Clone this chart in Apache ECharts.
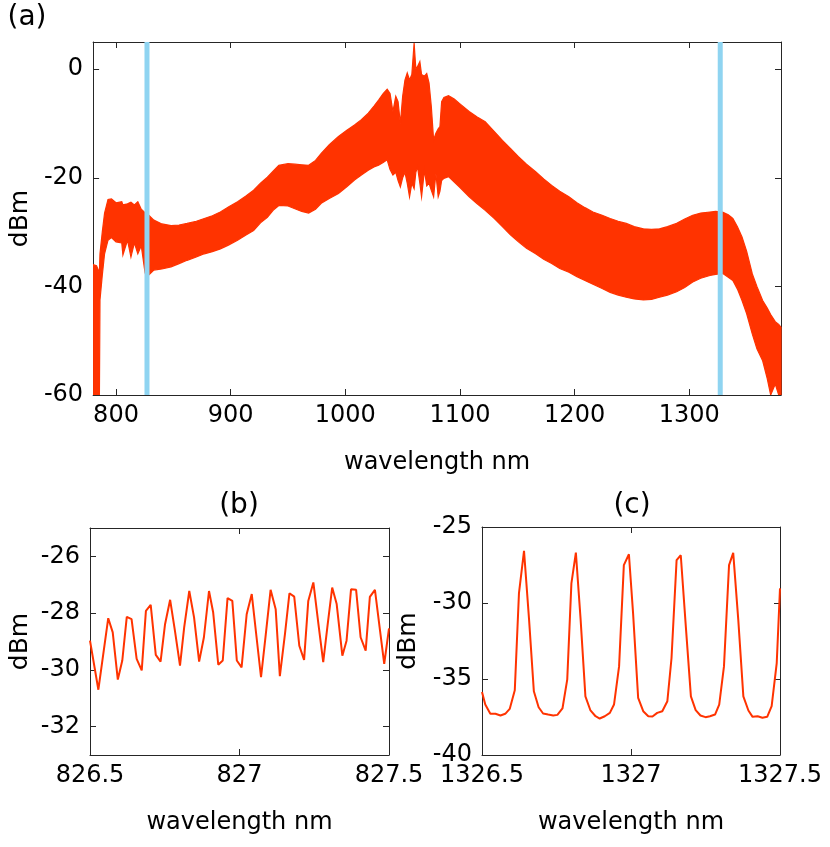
<!DOCTYPE html>
<html>
<head>
<meta charset="utf-8">
<script src="https://cdn.jsdelivr.net/npm/echarts@6/dist/echarts.min.js"></script>
<style>
html,body{margin:0;padding:0;background:#fff;}
#chart{width:830px;height:847px;}
</style>
</head>
<body>
<div id="chart"></div>
<script>
// ---------- Panel (a): full spectrum, band between upper and lower envelopes ----------
const wlA = [780,783,785.5,786,788,790,793,796,800,805,806,810,813,816,819,822,825,827,829,833,840,848,855,862,870,877,884,891,898,906,913,920,926,932,937,942,950,956,962,968,974,979,986,994,1001,1008,1014,1020,1025,1029,1033,1036.5,1039,1041.5,1044,1046,1048,1050,1052,1054,1056,1058,1060,1061.5,1063,1065,1066.5,1069,1071,1073,1075,1077,1079,1081,1082.5,1084,1086,1090,1095,1100,1108,1115,1122,1130,1137,1144,1151,1158,1166,1173,1180,1187,1195,1202,1209,1216,1224,1231,1238,1245,1252,1260,1267,1274,1281,1289,1296,1303,1310,1318,1323,1329,1334,1338,1342,1346,1350,1355,1359,1364,1368,1371,1375,1378,1380];
const upperA = [-36.0,-36.2,-37.5,-34.0,-30.0,-26.5,-24.0,-23.9,-24.6,-24.4,-25.0,-24.8,-24.5,-25.0,-24.4,-25.8,-26.4,-26.6,-27.0,-27.8,-28.5,-28.8,-28.7,-28.4,-28.0,-27.5,-27.0,-26.3,-25.4,-24.4,-23.4,-22.3,-21.0,-19.9,-18.8,-17.7,-17.4,-17.5,-17.6,-17.7,-16.8,-15.5,-13.9,-12.4,-11.3,-10.3,-9.3,-8.1,-6.8,-5.7,-4.5,-3.7,-4.5,-7.8,-5.0,-6.0,-10.0,-5.0,-2.0,-0.7,-2.0,-1.0,4.8,0.0,0.5,1.4,-1.0,-1.3,-0.8,-2.5,-6.9,-13.0,-11.8,-11.0,-10.6,-6.0,-5.2,-4.9,-5.5,-6.4,-7.8,-8.8,-9.7,-11.5,-13.1,-14.6,-16.1,-17.5,-18.9,-20.2,-21.4,-22.5,-23.5,-24.6,-25.5,-26.3,-26.9,-27.5,-28.0,-28.4,-29.0,-29.4,-29.5,-29.4,-29.0,-28.4,-27.6,-26.9,-26.5,-26.3,-26.2,-26.3,-26.8,-27.5,-29.0,-30.9,-33.5,-37.7,-40.0,-42.6,-44.0,-45.2,-46.5,-47.0,-47.5];
const lowerA = [-60,-60,-60,-42.5,-38.0,-34.0,-31.5,-31.0,-31.8,-32.0,-34.2,-31.5,-34.6,-32.0,-34.0,-32.5,-37.0,-34.0,-37.8,-37.0,-36.8,-36.4,-35.8,-35.2,-34.6,-34.0,-33.6,-33.1,-32.4,-31.5,-30.6,-29.7,-28.3,-27.3,-26.0,-25.1,-25.2,-25.7,-26.2,-26.5,-25.8,-24.7,-23.8,-22.9,-21.7,-20.4,-19.5,-18.6,-18.0,-17.7,-17.2,-16.7,-18.5,-19.5,-19.0,-20.5,-21.7,-20.0,-19.0,-21.0,-23.5,-21.0,-22.0,-19.0,-18.0,-21.0,-23.5,-18.6,-21.5,-21.0,-22.3,-23.5,-19.2,-23.5,-22.5,-20.5,-20.1,-19.8,-20.8,-21.8,-23.5,-24.8,-26.0,-27.5,-29.0,-30.5,-31.8,-33.0,-34.0,-35.0,-35.8,-36.7,-37.4,-38.2,-38.9,-39.6,-40.4,-41.1,-41.6,-42.0,-42.3,-42.5,-42.4,-42.0,-41.6,-41.0,-40.2,-39.2,-38.5,-38.0,-37.8,-37.6,-38.3,-38.9,-40.5,-42.6,-45.0,-48.8,-51.5,-53.7,-57.0,-60,-58.0,-60,-60];
const markerWl = [827, 1327];
const xTicksA = [800, 900, 1000, 1100, 1200, 1300];
const yTicksA = [-60, -40, -20, 0];

// ---------- Panel (b): zoom near 827 nm ----------
const wlB = [826.500,826.528,826.561,826.576,826.593,826.608,826.623,826.639,826.656,826.673,826.687,826.703,826.720,826.736,826.751,826.768,826.784,826.801,826.815,826.832,826.848,826.865,826.881,826.898,826.912,826.929,826.944,826.960,826.976,826.991,827.007,827.024,827.041,827.057,827.072,827.088,827.104,827.121,827.135,827.152,827.167,827.183,827.200,827.216,827.230,827.247,827.264,827.280,827.295,827.310,827.325,827.344,827.358,827.373,827.390,827.405,827.422,827.436,827.453,827.470,827.484,827.500];
const dbmB = [-28.97,-30.70,-28.18,-28.68,-30.34,-29.67,-28.13,-28.21,-29.61,-30.02,-27.92,-27.71,-29.47,-29.71,-28.39,-27.53,-28.62,-29.85,-28.50,-27.22,-28.15,-29.71,-28.85,-27.22,-27.98,-29.82,-29.67,-27.47,-27.57,-29.67,-29.91,-28.04,-27.33,-28.85,-30.26,-28.74,-27.18,-27.86,-30.22,-28.74,-27.30,-27.42,-29.15,-29.65,-27.57,-26.92,-28.39,-29.73,-28.39,-27.10,-27.68,-29.50,-28.97,-27.16,-27.18,-28.85,-29.32,-27.43,-27.18,-28.62,-29.79,-28.54];
const yTicksB = [-32, -30, -28, -26];

// ---------- Panel (c): zoom near 1327 nm ----------
const wlC = [1326.500,1326.511,1326.528,1326.545,1326.562,1326.578,1326.593,1326.610,1326.624,1326.641,1326.658,1326.674,1326.690,1326.705,1326.722,1326.739,1326.753,1326.770,1326.786,1326.800,1326.815,1326.831,1326.847,1326.864,1326.881,1326.895,1326.912,1326.929,1326.943,1326.960,1326.976,1326.993,1327.007,1327.024,1327.041,1327.058,1327.072,1327.088,1327.105,1327.122,1327.136,1327.153,1327.167,1327.184,1327.201,1327.217,1327.233,1327.250,1327.265,1327.282,1327.296,1327.312,1327.329,1327.343,1327.360,1327.377,1327.394,1327.408,1327.425,1327.441,1327.457,1327.472,1327.489,1327.500];
const dbmC = [-35.85,-36.68,-37.29,-37.29,-37.40,-37.29,-36.97,-35.74,-29.37,-26.57,-31.11,-35.81,-36.86,-37.27,-37.34,-37.40,-37.36,-36.94,-35.04,-28.71,-26.68,-31.11,-36.14,-37.07,-37.45,-37.60,-37.45,-37.23,-36.68,-34.17,-27.51,-26.79,-30.68,-36.24,-37.12,-37.45,-37.47,-37.23,-37.12,-36.46,-33.62,-27.18,-26.86,-31.55,-36.14,-37.05,-37.40,-37.51,-37.45,-37.34,-36.68,-34.17,-27.51,-26.70,-31.11,-36.14,-37.07,-37.49,-37.45,-37.55,-37.49,-36.79,-33.95,-29.04];

// ---------- styling ----------
const FONT = 'DejaVu Sans';
const RED = '#FF3300';
const BLUE = '#8FD4F1';
const AX = '#262626';
const fmt = v => String(v);

function axisPair(gridIndex, kind, opts) {
  const base = {
    gridIndex: gridIndex, type: 'value', min: opts.min, max: opts.max,
    splitLine: {show: false},
    axisLine: {show: true, onZero: false, lineStyle: {color: AX, width: 1}},
    axisTick: {show: true, inside: true, length: 6, lineStyle: {color: AX, width: 1}},
  };
  if (opts.interval != null) base.interval = opts.interval;
  if (opts.ticks) base.axisTick.customValues = opts.ticks;
  const main = Object.assign({}, base, {
    position: kind === 'x' ? 'bottom' : 'left',
    axisLabel: Object.assign({show: true, color: '#000', fontFamily: FONT, fontSize: 24,
      margin: kind === 'x' ? 9 : 10, formatter: fmt, showMaxLabel: true, showMinLabel: true},
      opts.ticks ? {customValues: opts.ticks} : {}),
    name: opts.name, nameLocation: 'middle', nameGap: opts.nameGap,
    nameTextStyle: {color: '#000', fontFamily: FONT, fontSize: kind === 'x' ? 24 : 25}
  });
  const mirror = Object.assign({}, base, {
    position: kind === 'x' ? 'top' : 'right',
    axisLabel: {show: false}
  });
  mirror.axisTick = Object.assign({}, base.axisTick);
  return [main, mirror];
}

const xAxes = [].concat(
  axisPair(0, 'x', {min: 780, max: 1380, ticks: xTicksA, name: 'wavelength nm', nameGap: 56}),
  axisPair(1, 'x', {min: 826.5, max: 827.5, interval: 0.5, name: 'wavelength nm', nameGap: 56}),
  axisPair(2, 'x', {min: 1326.5, max: 1327.5, interval: 0.5, name: 'wavelength nm', nameGap: 56})
);
const yAxes = [].concat(
  axisPair(0, 'y', {min: -60, max: 5, ticks: yTicksA, name: 'dBm', nameGap: 57}),
  axisPair(1, 'y', {min: -33, max: -25, ticks: yTicksB, name: 'dBm', nameGap: 57}),
  axisPair(2, 'y', {min: -40, max: -25, interval: 5, name: 'dBm', nameGap: 61})
);

// Band: one polygon through the upper envelope forward and the lower envelope backward,
// positioned with the axis scales via api.coord.
const bandData = wlA.map((w, i) => [w, upperA[i], lowerA[i]]);

const series = [
  {
    type: 'custom', xAxisIndex: 0, yAxisIndex: 0, data: bandData,
    encode: {x: 0, y: [1, 2]}, clip: true, z: 2,
    renderItem: function (params, api) {
      if (params.dataIndex !== 0) return null;
      const pts = [];
      for (let i = 0; i < wlA.length; i++) pts.push(api.coord([wlA[i], upperA[i]]));
      for (let i = wlA.length - 1; i >= 0; i--) pts.push(api.coord([wlA[i], lowerA[i]]));
      return {
        type: 'polygon', shape: {points: pts},
        style: {fill: RED, stroke: RED, lineWidth: 1.2}
      };
    }
  }
];
markerWl.forEach(w => {
  series.push({
    type: 'line', xAxisIndex: 0, yAxisIndex: 0,
    data: [[w, -60], [w, 5]], showSymbol: false, symbol: 'none',
    lineStyle: {color: BLUE, width: 5}, z: 5
  });
});
series.push({
  type: 'line', xAxisIndex: 2, yAxisIndex: 2,
  data: wlB.map((w, i) => [w, dbmB[i]]), showSymbol: false, symbol: 'none',
  lineStyle: {color: RED, width: 2}, z: 3
});
series.push({
  type: 'line', xAxisIndex: 4, yAxisIndex: 4,
  data: wlC.map((w, i) => [w, dbmC[i]]), showSymbol: false, symbol: 'none',
  lineStyle: {color: RED, width: 2}, z: 3
});

function label(text, x, y) {
  return {type: 'text', x: x, y: y, z: 10,
    style: {text: text, fill: '#000', fontFamily: FONT, fontSize: 28, align: 'center', verticalAlign: 'middle'}};
}

const chart = echarts.init(document.getElementById('chart'), null, {renderer: 'canvas'});
chart.setOption({
  animation: false,
  backgroundColor: '#fff',
  textStyle: {fontFamily: FONT},
  grid: [
    {left: 90, top: 42, width: 691, height: 353, containLabel: false},
    {left: 90, top: 528, width: 299, height: 227, containLabel: false},
    {left: 482, top: 527, width: 298, height: 228, containLabel: false}
  ],
  xAxis: xAxes,
  yAxis: yAxes,
  series: series,
  graphic: [label('(a)', 27, 18), label('(b)', 239, 506), label('(c)', 632, 506)]
});
</script>
</body>
</html>
